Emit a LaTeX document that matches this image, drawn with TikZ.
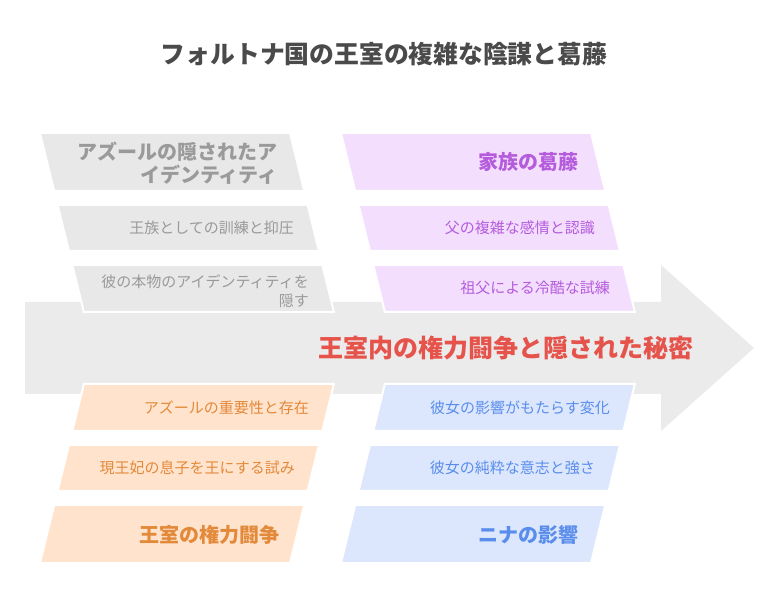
\documentclass[tikz,border=0pt]{standalone}
\usepackage{fontspec}
\setmainfont{Noto Sans CJK JP}
\definecolor{arrowfill}{HTML}{EBEBEB}
\definecolor{grayfill}{HTML}{E8E8E8}
\definecolor{graytext}{HTML}{9A9A9A}
\definecolor{purfill}{HTML}{F3DEFE}
\definecolor{purtext}{HTML}{B55CDC}
\definecolor{orfill}{HTML}{FFE3CC}
\definecolor{ortext}{HTML}{E3893A}
\definecolor{bluefill}{HTML}{DCE7FD}
\definecolor{bluetext}{HTML}{5A8DEB}
\definecolor{maintext}{HTML}{E5534B}
\definecolor{titletext}{HTML}{4A4A4A}
% top band: left edge x = 40 + off + s*(y-133)
\newcommand\topbone[4]{%
  \fill[#4,draw=white,line width=2pt]
    ({40+#3+0.245*(#1-133)},#1) -- ({290+#3+0.245*(#1-133)},#1) --
    ({290+#3+0.245*(#2-133)},#2) -- ({40+#3+0.245*(#2-133)},#2) -- cycle;}
% bottom band: left edge x = 40 + off + s*(563-y)
\newcommand\botbone[4]{%
  \fill[#4,draw=white,line width=2pt]
    ({40+#3+0.245*(563-#1)},#1) -- ({290+#3+0.245*(563-#1)},#1) --
    ({290+#3+0.245*(563-#2)},#2) -- ({40+#3+0.245*(563-#2)},#2) -- cycle;}
\tikzset{
  subtxt/.style={anchor=east,align=right,inner xsep=0pt,font=\fontsize{15}{19}\selectfont},
  headtxt/.style={anchor=east,align=right,inner xsep=0pt,font=\fontsize{20}{23}\selectfont\bfseries},
}
\begin{document}
\begin{tikzpicture}[x=1pt,y=-1pt]
\useasboundingbox[fill=white] (0,0) rectangle (780,612);
% title
\node[font=\fontsize{24.8}{29}\selectfont\bfseries,text=titletext] (title) at (384,54) {フォルトナ国の王室の複雑な陰謀と葛藤};
% spine arrow
\fill[arrowfill] (25,302) -- (661,302) -- (661,265) -- (754,348) -- (661,431) -- (661,394) -- (25,394) -- cycle;
% top-left (gray)
\topbone{133}{191}{0}{grayfill}
\topbone{205}{251}{0}{grayfill}
\topbone{265}{312}{0}{grayfill}
% top-right (purple)
\topbone{133}{191}{301}{purfill}
\topbone{205}{251}{301}{purfill}
\topbone{265}{312}{301}{purfill}
% bottom-left (orange)
\botbone{384}{431}{0}{orfill}
\botbone{445}{491}{0}{orfill}
\botbone{505}{563}{0}{orfill}
% bottom-right (blue)
\botbone{384}{431}{301}{bluefill}
\botbone{445}{491}{301}{bluefill}
\botbone{505}{563}{301}{bluefill}
% texts
\node[headtxt,text=graytext] (azhidden) at (278,163) {アズールの隠されたア\\イデンティティ};
\node[subtxt,text=graytext] (training) at (294,228) {王族としての訓練と抑圧};
\node[subtxt,text=graytext] (hideid) at (309,291) {彼の本物のアイデンティティを\\隠す};
\node[headtxt,text=purtext] (family) at (579,162) {家族の葛藤};
\node[subtxt,text=purtext] (father) at (595,228) {父の複雑な感情と認識};
\node[subtxt,text=purtext] (grandpa) at (610,288) {祖父による冷酷な試練};
\node[anchor=east,inner xsep=0pt,font=\fontsize{25}{29}\selectfont\bfseries,text=maintext] (main) at (694,348) {王室内の権力闘争と隠された秘密};
\node[subtxt,text=ortext] (azimp) at (309,408) {アズールの重要性と存在};
\node[subtxt,text=ortext] (queen) at (295,468) {現王妃の息子を王にする試み};
\node[headtxt,text=ortext] (power) at (280,535) {王室の権力闘争};
\node[subtxt,text=bluetext] (change) at (610,408) {彼女の影響がもたらす変化};
\node[subtxt,text=bluetext] (will) at (595,468) {彼女の純粋な意志と強さ};
\node[headtxt,text=bluetext] (nina) at (579,535) {ニナの影響};
\end{tikzpicture}
\end{document}
